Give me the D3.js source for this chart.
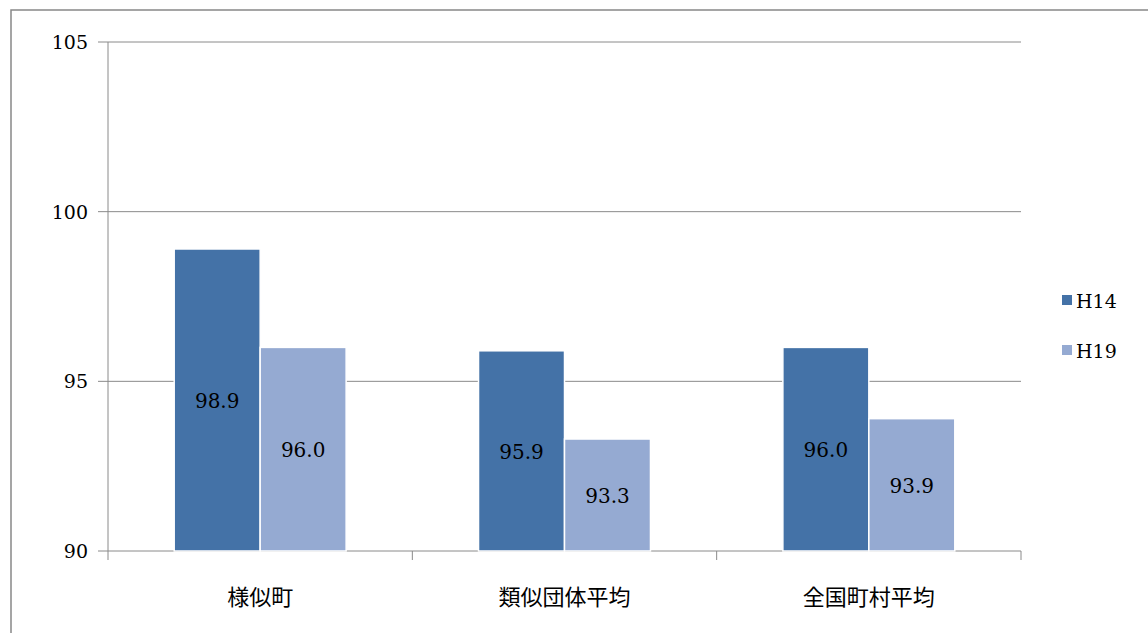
<!DOCTYPE html>
<html><head><meta charset="utf-8">
<script src="https://cdn.jsdelivr.net/npm/d3@7"></script>
<style>body{margin:0;background:#fff}
.serif{font-family:"DejaVu Serif",serif}</style>
</head><body>
<svg id="chart" width="1148" height="633"></svg>
<script>
// chart data
const categories = ["様似町", "類似団体平均", "全国町村平均"];
const seriesNames = ["H14", "H19"];
const h14 = [98.9, 95.9, 96.0];
const h19 = [96.0, 93.3, 93.9];
const yTicks = [90, 95, 100, 105];
const colors = ["#4472a7", "#95aad2"];

const svg = d3.select("#chart");
const m = {left: 108, right: 1021, top: 42, bottom: 551};

// outer frame
svg.append("rect").attr("x", 11).attr("y", 10).attr("width", 1150).attr("height", 640)
    .attr("fill", "none").attr("stroke", "#888").attr("stroke-width", 1.5);

const x = d3.scaleBand().domain(categories).range([m.left, m.right]);
const xs = d3.scaleBand().domain(seriesNames).range([0, x.bandwidth()]).paddingInner(0).paddingOuter(0.77);
const y = d3.scaleLinear().domain([90, 105]).range([m.bottom, m.top]);

// gridlines
svg.append("g").selectAll("line").data(yTicks).enter().append("line")
    .attr("x1", m.left - 10).attr("x2", m.right)
    .attr("y1", d => y(d)).attr("y2", d => y(d))
    .attr("stroke", "#8a8a8a").attr("stroke-width", 1);
svg.append("line").attr("x1", m.left).attr("x2", m.left).attr("y1", m.top).attr("y2", m.bottom)
    .attr("stroke", "#8a8a8a");
svg.append("g").selectAll("text").data(yTicks).enter().append("text")
    .attr("class", "serif")
    .attr("x", m.left - 20).attr("y", d => y(d) + 7).attr("text-anchor", "end")
    .attr("font-size", 19).text(d => d);

// x ticks
const bounds = [m.left].concat(categories.map(c => x(c) + x.bandwidth()));
svg.append("g").selectAll("line").data(bounds).enter().append("line")
    .attr("x1", d => d).attr("x2", d => d).attr("y1", m.bottom).attr("y2", m.bottom + 9)
    .attr("stroke", "#8a8a8a");
svg.append("g").selectAll("text").data(categories).enter().append("text")
    .attr("x", d => x(d) + x.bandwidth() / 2).attr("y", 605).attr("text-anchor", "middle")
    .attr("font-family", "Noto Sans CJK JP").attr("font-size", 22).text(d => d);

// bars
const series = [h14, h19];
series.forEach((vals, si) => {
    const g = svg.append("g");
    const data = categories.map((c, i) => ({c, v: vals[i]}));
    g.selectAll("rect").data(data).enter().append("rect")
        .attr("x", d => x(d.c) + xs(seriesNames[si]))
        .attr("y", d => y(d.v))
        .attr("width", xs.bandwidth())
        .attr("height", d => y(90) - y(d.v))
        .attr("fill", colors[si]).attr("stroke", "#fff").attr("stroke-width", 1.5);
    g.selectAll("text").data(data).enter().append("text")
        .attr("class", "serif")
        .attr("x", d => x(d.c) + xs(seriesNames[si]) + xs.bandwidth() / 2)
        .attr("y", d => (y(d.v) + y(90)) / 2 + 8)
        .attr("text-anchor", "middle")
        .attr("font-size", 20).text(d => d.v.toFixed(1));
});

// legend
const lg = svg.append("g").selectAll("g").data(seriesNames).enter().append("g")
    .attr("transform", (d, i) => `translate(1062,${301 + i * 50})`);
lg.append("rect").attr("x", 0).attr("y", -6).attr("width", 10).attr("height", 10)
    .attr("fill", (d, i) => colors[i]);
lg.append("text").attr("class", "serif").attr("x", 14).attr("y", 7)
    .attr("font-size", 19).text(d => d);
</script>
</body></html>
